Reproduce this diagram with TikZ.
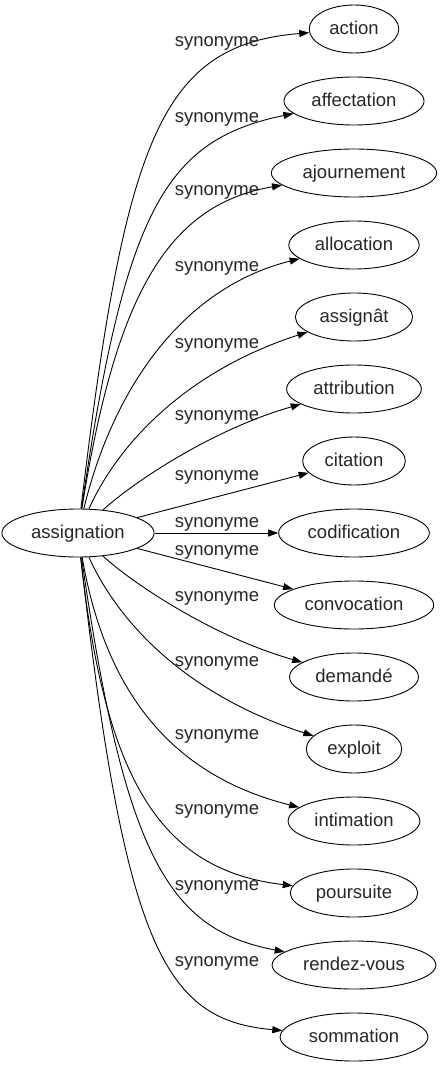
\documentclass[tikz,border=0pt]{standalone}
\usepackage{fontspec}
\setmainfont{Liberation Sans}
\usetikzlibrary{shapes.geometric,arrows.meta}
\begin{document}
\begin{tikzpicture}[x=1pt,y=-1pt,
  every node/.style={font=\fontsize{18.5}{22}\selectfont, text=black!85},
  word/.style={draw=black, ellipse, line width=0.9pt, minimum height=48pt, inner xsep=7pt, inner ysep=2pt, text height=14pt, text depth=3pt},
  lab/.style={anchor=base, inner sep=0pt},
  syn/.style={line width=0.9pt, -{Triangle[length=10pt,width=7pt]}}]
\useasboundingbox (0,0) rectangle (439,1067);
\node[word] (a) at (78,533) {assignation};
\node[word] (t1) at (354,29) {action};
\node[word] (t2) at (354,101) {affectation};
\node[word] (t3) at (354,173) {ajournement};
\node[word] (t4) at (354,245) {allocation};
\node[word] (t5) at (354,317) {assignât};
\node[word] (t6) at (354,389) {attribution};
\node[word] (t7) at (354,461) {citation};
\node[word] (t8) at (354,533) {codification};
\node[word] (t9) at (354,605) {convocation};
\node[word] (t10) at (354,677) {demandé};
\node[word] (t11) at (354,749) {exploit};
\node[word] (t12) at (354,821) {intimation};
\node[word] (t13) at (354,893) {poursuite};
\node[word] (t14) at (354,965) {rendez-vous};
\node[word] (t15) at (354,1037) {sommation};
% upper edges
\draw[syn] (a) .. controls (125,140) and (160,45) .. (t1);
\draw[syn] (a) .. controls (125,210) and (165,140) .. (t2);
\draw[syn] (a) .. controls (115,300) and (165,205) .. (t3);
\draw[syn] (a) .. controls (110,400) and (175,290) .. (t4);
\draw[syn] (a) .. controls (120,440) and (190,370) .. (t5);
\draw[syn] (a) .. controls (130,485) and (210,430) .. (t6);
\draw[syn] (a) -- (t7);
\draw[syn] (a) -- (t8);
\draw[syn] (a) -- (t9);
% lower edges
\draw[syn] (a) .. controls (130,581) and (210,636) .. (t10);
\draw[syn] (a) .. controls (120,626) and (190,696) .. (t11);
\draw[syn] (a) .. controls (105,690) and (170,775) .. (t12);
\draw[syn] (a) .. controls (105,780) and (160,870) .. (t13);
\draw[syn] (a) .. controls (125,860) and (170,930) .. (t14);
\draw[syn] (a) .. controls (125,950) and (165,1020) .. (t15);
% labels
\node[lab] (l1) at (217,47) {synonyme};
\node[lab] (l2) at (217,122.7) {synonyme};
\node[lab] (l3) at (217,196) {synonyme};
\node[lab] (l4) at (217,271.7) {synonyme};
\node[lab] (l5) at (217,348) {synonyme};
\node[lab] (l6) at (217,420) {synonyme};
\node[lab] (l7) at (217,480.7) {synonyme};
\node[lab] (l8) at (217,527.3) {synonyme};
\node[lab] (l9) at (217,555) {synonyme};
\node[lab] (l10) at (217,601.7) {synonyme};
\node[lab] (l11) at (217,666) {synonyme};
\node[lab] (l12) at (217,739) {synonyme};
\node[lab] (l13) at (217,814.3) {synonyme};
\node[lab] (l14) at (217,890) {synonyme};
\node[lab] (l15) at (217,966.7) {synonyme};
\end{tikzpicture}
\end{document}
